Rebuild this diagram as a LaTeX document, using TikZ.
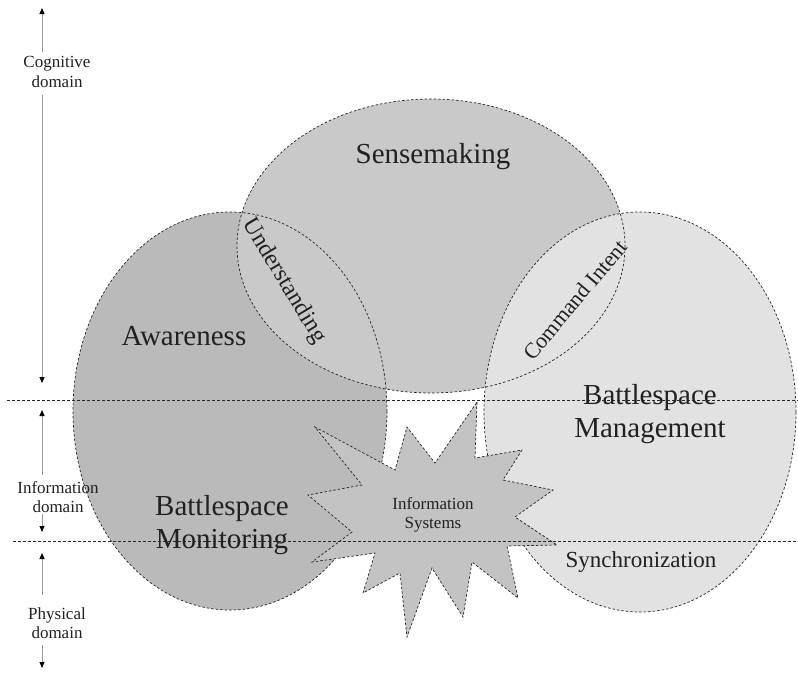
\documentclass[tikz,border=0pt]{standalone}
\usepackage{fontspec}
\setmainfont{Liberation Serif}
\usetikzlibrary{arrows.meta}
\definecolor{leftfill}{gray}{0.73}
\definecolor{topfill}{gray}{0.79}
\definecolor{rightfill}{gray}{0.885}
\definecolor{starfill}{gray}{0.765}
\definecolor{txt}{gray}{0.13}
\tikzset{
  outline/.style={draw=black!85, line width=0.7pt, dash pattern=on 2.5pt off 2pt},
  divider/.style={draw=black!85, line width=0.8pt, dash pattern=on 3pt off 2pt},
  axisline/.style={draw=black!40, line width=0.9pt, -{Triangle[length=6pt,width=5pt,color=black]}},
  biglabel/.style={text=txt, align=center, font=\fontsize{29}{33}\selectfont, inner sep=0pt},
  lenslabel/.style={text=txt, align=center, inner sep=0pt},
  smalllabel/.style={text=txt, align=center, font=\fontsize{17}{19.5}\selectfont, inner sep=0pt}
}
\begin{document}
\begin{tikzpicture}[x=1pt,y=-1pt]
\useasboundingbox (0,0) rectangle (798,675);
% centres
\coordinate (cL) at (230,411);
\coordinate (cT) at (431,246);
\coordinate (cR) at (640,412);
% fills
\fill[leftfill] (cL) ellipse [x radius=157, y radius=199];
\fill[topfill] (cT) ellipse [x radius=194, y radius=147];
\fill[rightfill] (cR) ellipse [x radius=156, y radius=200];
% outlines
\draw[outline] (cL) ellipse [x radius=157, y radius=199];
\draw[outline] (cT) ellipse [x radius=194, y radius=147];
\draw[outline] (cR) ellipse [x radius=156, y radius=200];
% star
\filldraw[fill=starfill, outline]
 (477,402) -- (475,458) -- (522,450) -- (503,480) -- (553,490) -- (515,517) --
 (557,545) -- (507,546) -- (518,598) -- (472,562) -- (463,617) -- (432,568) --
 (407,637) -- (400,573) -- (363,593) -- (375,553) -- (312,562) -- (352,532) --
 (308,495) -- (362,485) -- (315,427) -- (395,470) -- (407,427) -- (435,463) -- cycle;
\node[smalllabel] (infosys) at (433,515) {Information\\Systems};
% labels
\node[biglabel] (sense) at (433,157) {Sensemaking};
\node[biglabel] (aware) at (184,336) {Awareness};
\node[biglabel] (bmanage) at (650,414) {Battlespace\\Management};
\node[biglabel] (bmonitor) at (222,525) {Battlespace\\Monitoring};
\node[lenslabel, font=\fontsize{23}{27}\selectfont] (sync) at (641,562) {Synchronization};
\node[lenslabel, font=\fontsize{24}{28}\selectfont, rotate=-59] (under) at (284,281) {Understanding};
\node[lenslabel, font=\fontsize{22}{26}\selectfont, rotate=50] (intent) at (575,300) {Command Intent};
% dividers
\coordinate (d1a) at (7,400.5);
\coordinate (d1b) at (798,400.5);
\coordinate (d2a) at (13,541);
\coordinate (d2b) at (798,541);
\draw[divider] (d1a) -- (d1b);
\draw[divider] (d2a) -- (d2b);
% domain axis
\node[smalllabel] (cog) at (57,72) {Cognitive\\domain};
\node[smalllabel] (info) at (58,497) {Information\\domain};
\node[smalllabel] (phys) at (57,623) {Physical\\domain};
\coordinate (cogA) at (42,8);
\coordinate (cogB) at (42,52);
\coordinate (cogC) at (42,95);
\coordinate (cogD) at (42,383);
\coordinate (infA) at (42,410);
\coordinate (infB) at (42,475);
\coordinate (infC) at (42,514);
\coordinate (infD) at (42,532);
\coordinate (phyA) at (42,553);
\coordinate (phyB) at (42,595);
\coordinate (phyC) at (42,645);
\coordinate (phyD) at (42,668);
\draw[axisline] (cogB) -- (cogA);
\draw[axisline] (cogC) -- (cogD);
\draw[axisline] (infB) -- (infA);
\draw[axisline] (infC) -- (infD);
\draw[axisline] (phyB) -- (phyA);
\draw[axisline] (phyC) -- (phyD);
\end{tikzpicture}
\end{document}
